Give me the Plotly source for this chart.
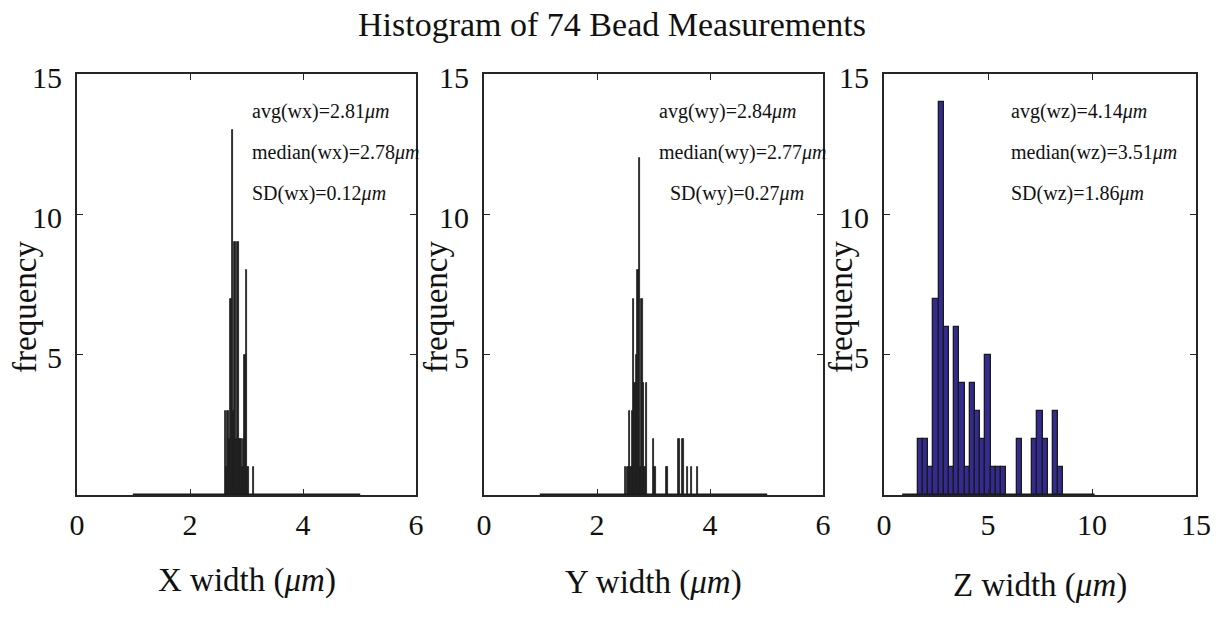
import plotly.graph_objects as go

# ---------------- data ----------------
title_text = "Histogram of 74 Bead Measurements"

# X widths: bin width 0.025, bin centers 1..5
x_bin_width = 0.025
x_range_bins = [0.9875, 5.0125]
x_centers = [2.625, 2.65, 2.675, 2.70, 2.725, 2.75, 2.775, 2.80, 2.825, 2.85, 2.875,
             2.90, 2.925, 2.95, 2.975, 3.00, 3.025, 3.125]
x_counts = [3, 1, 3, 2, 7, 13, 3, 9, 2, 9, 2, 2, 1, 2, 5, 8, 1, 1]

# Y widths: bin width 0.025, bin centers 1..5
y_bin_width = 0.025
y_range_bins = [0.9875, 5.0125]
y_centers = [2.50, 2.55, 2.575, 2.60, 2.625, 2.65, 2.675, 2.70, 2.725, 2.75, 2.775,
             2.80, 2.825, 2.85, 2.875, 3.00, 3.025, 3.225, 3.25, 3.45, 3.525, 3.60,
             3.675, 3.775]
y_counts = [1, 1, 3, 1, 3, 7, 4, 5, 8, 12, 1, 7, 4, 1, 4, 2, 1, 1, 1, 2, 2, 1, 1, 1]

# Z widths: bin width 0.25, bin centers 1..10
z_bin_width = 0.25
z_range_bins = [0.875, 10.125]
z_centers = [1.75, 2.0, 2.25, 2.5, 2.75, 3.0, 3.25, 3.5, 3.75, 4.0, 4.25, 4.5, 4.75,
             5.0, 5.25, 5.5, 5.75, 6.5, 7.25, 7.5, 7.75, 8.25, 8.5]
z_counts = [2, 2, 1, 7, 14, 6, 1, 6, 4, 1, 4, 3, 2, 5, 1, 1, 1, 2, 2, 3, 2, 3, 1]

stats_x = ["avg(wx)=2.81", "median(wx)=2.78", "SD(wx)=0.12"]
stats_y = ["avg(wy)=2.84", "median(wy)=2.77", "SD(wy)=0.27"]
stats_z = ["avg(wz)=4.14", "median(wz)=3.51", "SD(wz)=1.86"]
stats_xpos = [[3.06, 3.06, 3.06], [3.06, 3.06, 3.25], [6.0, 6.0, 6.0]]
stats_ypos = [13.68, 12.2, 10.75]

x_labels = ["X width", "Y width", "Z width"]
x_tickvals = [[0, 2, 4, 6], [0, 2, 4, 6], [0, 5, 10, 15]]
x_ranges = [[0, 6], [0, 6], [0, 15]]
y_tickvals = [5, 10, 15]
y_range = [0, 15]

# ---------------- style ----------------
FONT = "Liberation Serif"
BAR_FILL = "#332B92"
EDGE = "#1a1a1a"
AXC = "#262626"
TXT = "#111111"

W, H = 1223, 621


def px(xp):
    return xp / W


def py(yp):
    return 1 - yp / H


box_px = [[77, 416], [484, 823], [884, 1196]]
doms_x = [[px(a), px(b)] for a, b in box_px]
dom_y = [py(495), py(74)]

fig = go.Figure()

panels = [
    (x_centers, x_counts, x_bin_width, x_range_bins),
    (y_centers, y_counts, y_bin_width, y_range_bins),
    (z_centers, z_counts, z_bin_width, z_range_bins),
]

for i, (cs, cnts, bw, rb) in enumerate(panels):
    xa = "x" if i == 0 else f"x{i+1}"
    ya = "y" if i == 0 else f"y{i+1}"
    fig.add_trace(go.Scatter(x=rb, y=[0, 0], mode="lines",
                             line=dict(color=EDGE, width=3),
                             xaxis=xa, yaxis=ya, showlegend=False, hoverinfo="skip"))
    fig.add_trace(go.Bar(x=cs, y=cnts, width=bw,
                         marker=dict(color=BAR_FILL if i == 2 else "#222222",
                                     line=dict(color=EDGE, width=1.3 if i == 2 else 0.8)),
                         xaxis=xa, yaxis=ya, showlegend=False))

annotations = []
for i in range(3):
    suffix = "" if i == 0 else str(i + 1)
    fig.layout[f"xaxis{suffix}"] = dict(
        domain=doms_x[i], range=x_ranges[i], anchor=f"y{suffix}",
        tickvals=x_tickvals[i], ticktext=[str(v) for v in x_tickvals[i]],
        ticks="inside", ticklen=6, tickwidth=1.2, tickcolor=AXC,
        showline=True, linecolor=AXC, linewidth=2, mirror="allticks",
        showgrid=False, zeroline=False, automargin=False,
        ticklabelstandoff=2,
        tickfont=dict(family=FONT, size=30, color=TXT),
    )
    fig.layout[f"yaxis{suffix}"] = dict(
        domain=dom_y, range=y_range, anchor=f"x{suffix}",
        tickvals=y_tickvals, ticktext=[str(v) for v in y_tickvals],
        ticks="inside", ticklen=6, tickwidth=1.2, tickcolor=AXC,
        showline=True, linecolor=AXC, linewidth=2, mirror="allticks",
        showgrid=False, zeroline=False, automargin=False,
        ticklabelstandoff=7, ticklabelshift=3,
        tickfont=dict(family=FONT, size=30, color=TXT),
    )
    stats = [stats_x, stats_y, stats_z][i]
    for k in range(3):
        annotations.append(dict(
            x=stats_xpos[i][k], y=stats_ypos[k], xref=f"x{suffix}", yref=f"y{suffix}",
            text=stats[k] + "<i>μm</i>", showarrow=False, xanchor="left", yanchor="middle",
            font=dict(family=FONT, size=20, color=TXT)))

# axis labels
xlabel_cx = [246.5, 653.5, 1040]
xlabel_cy = [580, 582, 585]
for i in range(3):
    annotations.append(dict(
        x=px(xlabel_cx[i]), y=py(xlabel_cy[i]), xref="paper", yref="paper",
        text=x_labels[i] + " (<i>μm</i>)", showarrow=False, xanchor="center", yanchor="middle",
        font=dict(family=FONT, size=33, color=TXT)))
ylabel_cx = [25, 436, 841]
for i in range(3):
    annotations.append(dict(
        x=px(ylabel_cx[i]), y=py(307), xref="paper", yref="paper",
        text="frequency", textangle=-90, showarrow=False, xanchor="center", yanchor="middle",
        font=dict(family=FONT, size=33, color=TXT)))
annotations.append(dict(
    x=px(612), y=py(25), xref="paper", yref="paper", text=title_text,
    showarrow=False, xanchor="center", yanchor="middle",
    font=dict(family=FONT, size=34, color=TXT)))

fig.update_layout(
    template="none",
    width=W, height=H, margin=dict(l=0, r=0, t=0, b=0, autoexpand=False),
    paper_bgcolor="white", plot_bgcolor="white",
    bargap=0, annotations=annotations, showlegend=False,
)

# remove the default page margin so the figure fills the window exactly
fig.write_html("out.html",
               config={"displayModeBar": False},
               post_script="document.body.style.margin='0';document.body.style.padding='0';")
